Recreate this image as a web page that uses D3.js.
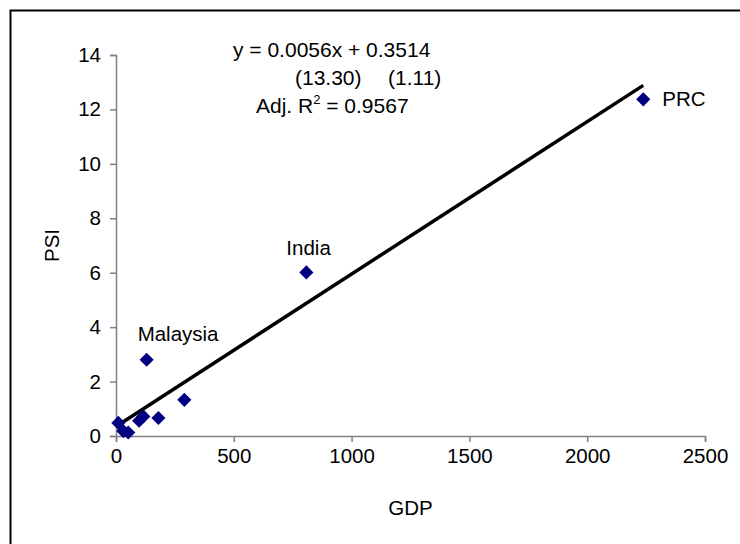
<!DOCTYPE html>
<html lang="en">
<head>
<meta charset="utf-8">
<script src="https://d3js.org/d3.v7.min.js"></script>
<style>
  body { margin: 0; background: #fff; }
  svg text { font-family: "Liberation Sans", Arial, sans-serif; fill: #000; }
</style>
</head>
<body>
<div id="chart"></div>
<script>
// GDP vs PSI
const gdp = [10, 31, 52, 98, 116, 180, 290, 130, 808, 2238];
const psi = [0.48, 0.18, 0.13, 0.56, 0.72, 0.66, 1.33, 2.80, 6.01, 12.37];
const labelled = [{name: "Malaysia", i: 7}, {name: "India", i: 8}, {name: "PRC", i: 9}];
const slope = 0.0056, intercept = 0.3514;
const xTicks = [0, 500, 1000, 1500, 2000, 2500];
const yTicks = [0, 2, 4, 6, 8, 10, 12, 14];

const W = 740, H = 544;
const margin = {top: 55, right: 35, bottom: 108, left: 116};

const svg = d3.select("#chart").append("svg")
  .attr("width", W).attr("height", H);

// outer chart frame (only top/left visible in the shot)
svg.append("rect")
  .attr("x", 10.5).attr("y", 10.5)
  .attr("width", 800).attr("height", 600)
  .attr("fill", "none").attr("stroke", "#000").attr("stroke-width", 2);

const x = d3.scaleLinear().domain([0, 2500]).range([margin.left, W - margin.right]);
const y = d3.scaleLinear().domain([0, 14]).range([H - margin.bottom, margin.top]);

const fs = "20.5px";

// x axis
const gx = svg.append("g")
  .attr("transform", `translate(0,${y(0)})`)
  .call(d3.axisBottom(x).tickValues(xTicks).tickSize(6).tickPadding(6).tickFormat(d3.format("d")));
gx.select(".domain").attr("stroke", "#808080").attr("stroke-width", 1.5);
gx.selectAll(".tick line").attr("stroke", "#808080").attr("stroke-width", 1.5);
gx.selectAll(".tick text").style("font-size", fs).attr("font-family", null);

// y axis
const gy = svg.append("g")
  .attr("transform", `translate(${x(0)},0)`)
  .call(d3.axisLeft(y).tickValues(yTicks).tickSize(6).tickPadding(9).tickFormat(d3.format("d")));
gy.select(".domain").attr("stroke", "#808080").attr("stroke-width", 1.5);
gy.selectAll(".tick line").attr("stroke", "#808080").attr("stroke-width", 1.5);
gy.selectAll(".tick text").style("font-size", fs).attr("font-family", null);

// axis titles
svg.append("text")
  .attr("x", (x(0) + x(2500)) / 2).attr("y", 515)
  .attr("text-anchor", "middle").style("font-size", fs)
  .text("GDP");
svg.append("text")
  .attr("transform", `translate(59,${(y(0) + y(14)) / 2}) rotate(-90)`)
  .attr("text-anchor", "middle").style("font-size", fs)
  .text("PSI");

// trend line
const xr = d3.extent(gdp);
svg.append("line")
  .attr("x1", x(xr[0])).attr("y1", y(slope * xr[0] + intercept))
  .attr("x2", x(xr[1])).attr("y2", y(slope * xr[1] + intercept))
  .attr("stroke", "#000").attr("stroke-width", 3.5);

// points
const pts = gdp.map((g, i) => ({gdp: g, psi: psi[i]}));
svg.append("g").selectAll("path")
  .data(pts)
  .join("path")
    .attr("d", d3.symbol(d3.symbolSquare, 100))
    .attr("transform", d => `translate(${x(d.gdp)},${y(d.psi)}) rotate(45)`)
    .attr("fill", "#000080");

// point labels
const offs = {Malaysia: [-9, -19], India: [-20, -17], PRC: [19, 7]};
svg.append("g").selectAll("text")
  .data(labelled)
  .join("text")
    .attr("x", d => x(gdp[d.i]) + offs[d.name][0])
    .attr("y", d => y(psi[d.i]) + offs[d.name][1])
    .style("font-size", fs)
    .text(d => d.name);

// regression note
const nfs = "21px";
const note = svg.append("g");
note.append("text").attr("x", 233).attr("y", 57).style("font-size", nfs)
  .text("y = 0.0056x + 0.3514");
note.append("text").attr("x", 295).attr("y", 85).style("font-size", nfs)
  .text("(13.30)");
note.append("text").attr("x", 388).attr("y", 85).style("font-size", nfs)
  .text("(1.11)");
const r2 = note.append("text").attr("x", 256).attr("y", 113).style("font-size", nfs);
r2.append("tspan").text("Adj. R");
r2.append("tspan").attr("dy", -9).style("font-size", "13px").text("2");
r2.append("tspan").attr("dy", 9).text(" = 0.9567");
</script>
</body>
</html>
